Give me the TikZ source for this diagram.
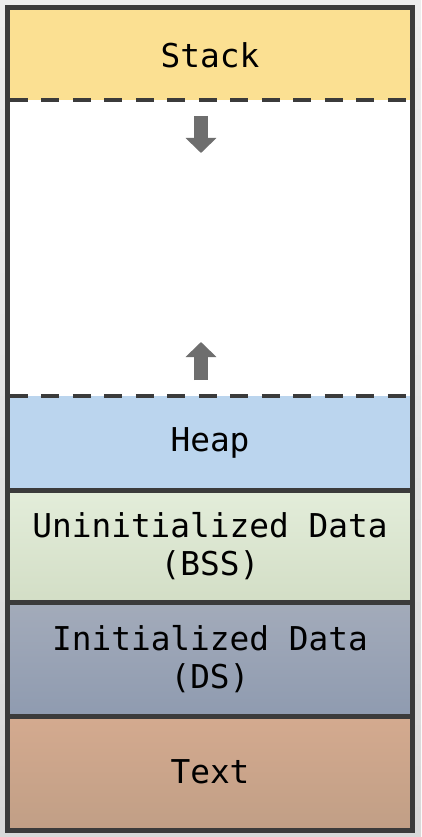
\documentclass[tikz,border=0pt]{standalone}
\usepackage{fontspec}
\setmonofont{DejaVu Sans Mono}
\usetikzlibrary{arrows.meta}
\definecolor{framegray}{HTML}{3B3B3B}
\definecolor{arrowgray}{HTML}{6E6E6E}
\definecolor{stackyellow}{HTML}{FBE092}
\definecolor{heapblue}{HTML}{BBD5EE}
\begin{document}
\begin{tikzpicture}[x=1pt, y=-1pt, every node/.style={inner sep=0, font=\ttfamily\fontsize{32.8}{38}\selectfont}]
\tikzset{segment/.style={rectangle, minimum width=400pt, align=center}}
% background
\useasboundingbox[top color=black!7, bottom color=black!15] (0,0) rectangle (421,837);

\node[segment, fill=stackyellow, minimum height=90pt] (stack) at (210,55) {Stack};
\node[segment, fill=white, minimum height=296pt] (free) at (210,248) {};
\node[segment, fill=heapblue, minimum height=94pt] (heap) at (210,443) {Heap};
\node[segment, top color={rgb,255:red,227;green,237;blue,218}, bottom color={rgb,255:red,211;green,222;blue,198}, minimum height=112pt] (bss) at (210,546) {Uninitialized Data\\(BSS)};
\node[segment, top color={rgb,255:red,163;green,171;blue,186}, bottom color={rgb,255:red,143;green,155;blue,176}, minimum height=114pt] (ds) at (210,659) {Initialized Data\\(DS)};
\node[segment, top color={rgb,255:red,212;green,170;blue,143}, bottom color={rgb,255:red,193;green,159;blue,134}, minimum height=112pt] (text) at (210,772) {Text};

% growth arrows
\coordinate (down0) at (201,116);
\coordinate (down1) at (201,153);
\coordinate (up0) at (201,380);
\coordinate (up1) at (201,342);
\tikzset{growth/.style={arrowgray, line width=14pt, -{Triangle[width=30pt, length=15pt]}}}
\draw[growth] (down0) -- (down1);
\draw[growth] (up0) -- (up1);

% borders
\tikzset{limit/.style={framegray, line width=4.5pt, dash pattern=on 18pt off 13.5pt}}
\draw[limit] (stack.south west) -- (stack.south east);
\draw[limit] (heap.north west) -- (heap.north east);
\tikzset{divider/.style={framegray, line width=5pt}}
\draw[divider] (heap.south west) -- (heap.south east);
\draw[divider] (bss.south west) -- (bss.south east);
\draw[divider] (ds.south west) -- (ds.south east);
\draw[framegray, line width=5pt] ([shift={(-2.5,-2.5)}]stack.north west) rectangle ([shift={(2.5,2.5)}]text.south east);
\end{tikzpicture}
\end{document}
